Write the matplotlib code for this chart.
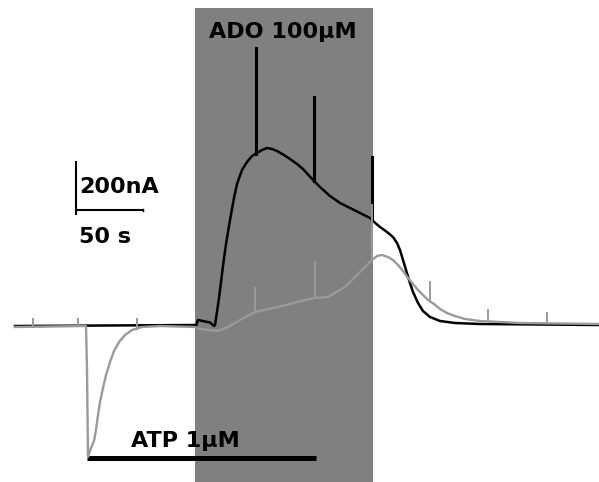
import numpy as np
import matplotlib
matplotlib.use('Agg')
import matplotlib.pyplot as plt

# Trazos (tiempo en s, corriente en nA)
t_negro = [0, 135, 135.75, 137.25, 146.25, 149.25, 150, 151.5, 153, 154.5, 156,
           158.25, 161.25, 164.25, 166.5, 170.25, 174, 177.75, 181.5, 185.25,
           189, 192.75, 196.5, 201.75, 206.25, 211.5, 216, 223.5, 228.75,
           236.25, 243.75, 251.25, 258.75, 266.25, 268.5, 273.75, 279, 283.5,
           286.5, 288.75, 291, 293.25, 295.5, 298.5, 302.25, 306, 311.25,
           318.75, 330, 348.75, 438]
i_negro = [0, 4, 0, 24, 14, 0, 4, 56, 112, 176, 240,
           328, 424, 512, 568, 624, 656, 680, 692, 704,
           712, 708, 700, 684, 668, 648, 628, 584, 556,
           520, 492, 472, 452, 432, 420, 396, 376, 356,
           332, 304, 264, 224, 184, 136, 92, 60, 36,
           20, 12, 8, 4]

t_gris = [0, 53.25, 54, 54.75, 57, 59.25, 60.75, 62.25, 63.75, 66, 68.25,
          71.25, 74.25, 78, 82.5, 87.75, 95.25, 108.75, 135, 138.75, 152.25,
          159.75, 168.75, 180, 197.25, 217.5, 225, 234.75, 247.5, 260.25,
          267.75, 271.5, 275.25, 279.75, 283.5, 287.25, 291, 294.75, 298.5,
          302.25, 306, 309.75, 314.25, 318.75, 324, 330, 337.5, 348.75,
          378.75, 438]
i_gris = [-4, 0, -176, -524, -488, -460, -416, -356, -304, -248, -196,
          -144, -100, -64, -36, -16, -4, 0, -4, -12, -20,
          -4, 24, 56, 76, 104, 112, 116, 156, 224,
          264, 280, 284, 276, 264, 244, 220, 192, 168,
          144, 124, 104, 88, 68, 52, 40, 28, 20,
          12, 8]

# espigas (tiempo, valor maximo)
esp_negro_t = [180.75, 224.25, 267.75]
esp_negro_top = [1112, 916, 676]
esp_gris_t = [13.5, 47.25, 91.5, 180, 225, 267.75, 311.25, 354.75, 399]
esp_gris_top = [28, 28, 28, 152, 256, 484, 176, 64, 52]

ado_ini, ado_fin = 135, 268.5
atp_ini, atp_fin = 54, 225.75

fig = plt.figure(figsize=(5.99, 4.82), dpi=100)
ax = fig.add_axes([0, 0, 1, 1])
ax.set_xlim(-11.25, 438)
ax.set_ylim(-624, 1304)
ax.axis('off')

# banda de adenosina
ax.axvspan(ado_ini, ado_fin, ymin=0, ymax=0.983, color='#808080', lw=0, zorder=0)

ax.plot(t_negro, i_negro, color='black', lw=1.8, zorder=2)
for t, top in zip(esp_negro_t, esp_negro_top):
    base = np.interp(t, t_negro, i_negro)
    ax.plot([t, t], [base, top], color='black', lw=2.2, zorder=2)

ax.plot(t_gris, i_gris, color='#9a9a9a', lw=1.7, zorder=3)
for t, top in zip(esp_gris_t, esp_gris_top):
    base = np.interp(t, t_gris, i_gris)
    ax.plot([t, t], [base, top], color='#9a9a9a', lw=1.4, zorder=3)

# barra ATP
ax.plot([atp_ini, atp_fin], [-528, -528], color='black', lw=3.6, solid_capstyle='butt')

# barra de escala
ax.plot([45.75, 45.75], [448, 656], color='black', lw=1.5)
ax.plot([45.75, 95.75], [464, 464], color='black', lw=1.5)
ax.plot([95.75, 95.75], [460, 468], color='black', lw=1.0)

fuente = dict(fontsize=16, fontweight='bold', family='DejaVu Sans')
ax.text(201, 1176, 'ADO 100μM', ha='center', va='center', **fuente)
ax.text(127.5, -460, 'ATP 1μM', ha='center', va='center', **fuente)
ax.text(48.5, 556, '200nA', ha='left', va='center', **fuente)
ax.text(48, 356, '50 s', ha='left', va='center', **fuente)

fig.savefig('out.png', dpi=100)
